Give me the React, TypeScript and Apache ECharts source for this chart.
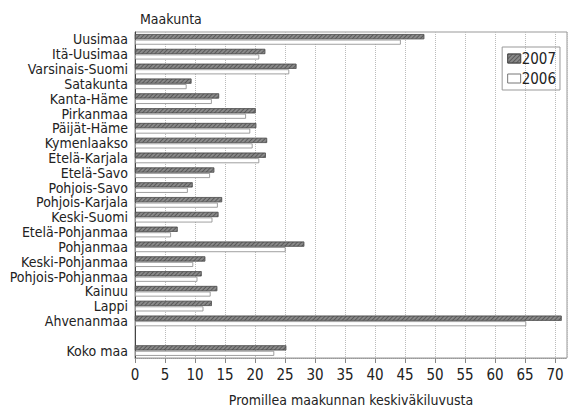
import React, { useEffect, useRef } from "react";
import * as echarts from "echarts";

const categories = [
  "Uusimaa", "Itä-Uusimaa", "Varsinais-Suomi", "Satakunta", "Kanta-Häme",
  "Pirkanmaa", "Päijät-Häme", "Kymenlaakso", "Etelä-Karjala", "Etelä-Savo",
  "Pohjois-Savo", "Pohjois-Karjala", "Keski-Suomi", "Etelä-Pohjanmaa", "Pohjanmaa",
  "Keski-Pohjanmaa", "Pohjois-Pohjanmaa", "Kainuu", "Lappi", "Ahvenanmaa",
  "", "Koko maa",
];
const values2007 = [
  48.2, 21.7, 26.9, 9.4, 14.0, 20.1, 20.2, 22.0, 21.8, 13.2,
  9.6, 14.5, 13.9, 7.1, 28.2, 11.7, 11.1, 13.7, 12.8, 71.1,
  null, 25.2,
];
const values2006 = [
  44.3, 20.7, 25.7, 8.6, 12.8, 18.5, 19.2, 19.6, 20.7, 12.5,
  8.8, 13.8, 12.9, 6.0, 25.1, 9.7, 10.4, 12.6, 11.4, 65.2,
  null, 23.2,
];
const seriesNames = ["2007", "2006"];
const xTicks = { min: 0, max: 72, interval: 5 };

const FONT = "'DejaVu Sans Condensed', sans-serif";

export default function App() {
  const ref = useRef<HTMLDivElement>(null);
  useEffect(() => {
    if (!ref.current) return;
    const chart = echarts.init(ref.current, null, { renderer: "svg" });
    const hatch = {
      symbol: "rect",
      symbolSize: 1,
      dashArrayX: [1, 0],
      dashArrayY: [1, 1.5],
      rotation: -Math.PI / 4,
      color: "rgba(50,50,50,0.55)",
    };
    chart.setOption({
      animation: false,
      textStyle: { fontFamily: FONT, color: "#222" },
      title: {
        text: "Maakunta",
        left: 135,
        top: 7,
        textStyle: { fontFamily: FONT, fontSize: 14, fontWeight: "normal", color: "#222" },
      },
      grid: {
        left: 135,
        right: 6,
        top: 32,
        bottom: 49,
        show: true,
        borderColor: "#999",
        borderWidth: 1,
        containLabel: false,
      },
      legend: {
        orient: "vertical",
        right: 13,
        top: 47,
        itemWidth: 13,
        itemHeight: 9,
        itemGap: 5,
        padding: [4, 4, 4, 5],
        borderColor: "#999",
        borderWidth: 1,
        textStyle: { fontFamily: FONT, fontSize: 15, color: "#222", padding: [0, 0, 0, -4] },
        data: [
          { name: seriesNames[0], icon: "rect", itemStyle: { color: "#8a8a8a", borderColor: "#555", borderWidth: 1 } },
          { name: seriesNames[1], icon: "rect", itemStyle: { color: "#fff", borderColor: "#777", borderWidth: 1 } },
        ],
      },
      xAxis: {
        type: "value",
        min: xTicks.min,
        max: xTicks.max,
        interval: xTicks.interval,
        name: "Promillea maakunnan keskiväkiluvusta",
        nameLocation: "middle",
        nameGap: 35,
        nameTextStyle: { fontFamily: FONT, fontSize: 14, color: "#222" },
        axisLine: { show: true, lineStyle: { color: "#999", type: "dotted" } },
        axisTick: { show: true, length: 5, lineStyle: { color: "#888" } },
        axisLabel: { fontFamily: FONT, fontSize: 15, color: "#222", margin: 9, showMaxLabel: false },
        splitLine: { show: true, lineStyle: { color: "#bbb", type: "dotted", width: 1 } },
      },
      yAxis: {
        type: "category",
        data: categories,
        inverse: true,
        axisLine: { show: true, lineStyle: { color: "#444", width: 1 } },
        axisTick: { show: false },
        axisLabel: { fontFamily: FONT, fontSize: 14, color: "#222", margin: 7, interval: 0 },
        splitLine: { show: false },
      },
      series: [
        {
          name: seriesNames[0],
          type: "bar",
          data: values2007,
          barWidth: 5,
          barGap: "10%",
          itemStyle: { color: "#8a8a8a", borderColor: "#555", borderWidth: 0.6, decal: hatch },
        },
        {
          name: seriesNames[1],
          type: "bar",
          data: values2006,
          barWidth: 5,
          itemStyle: { color: "#fff", borderColor: "#888", borderWidth: 0.8 },
        },
      ],
    });
    return () => chart.dispose();
  }, []);
  return <div ref={ref} style={{ width: 573, height: 412, position: "absolute", left: 0, top: 0, background: "#fff" }} />;
}
